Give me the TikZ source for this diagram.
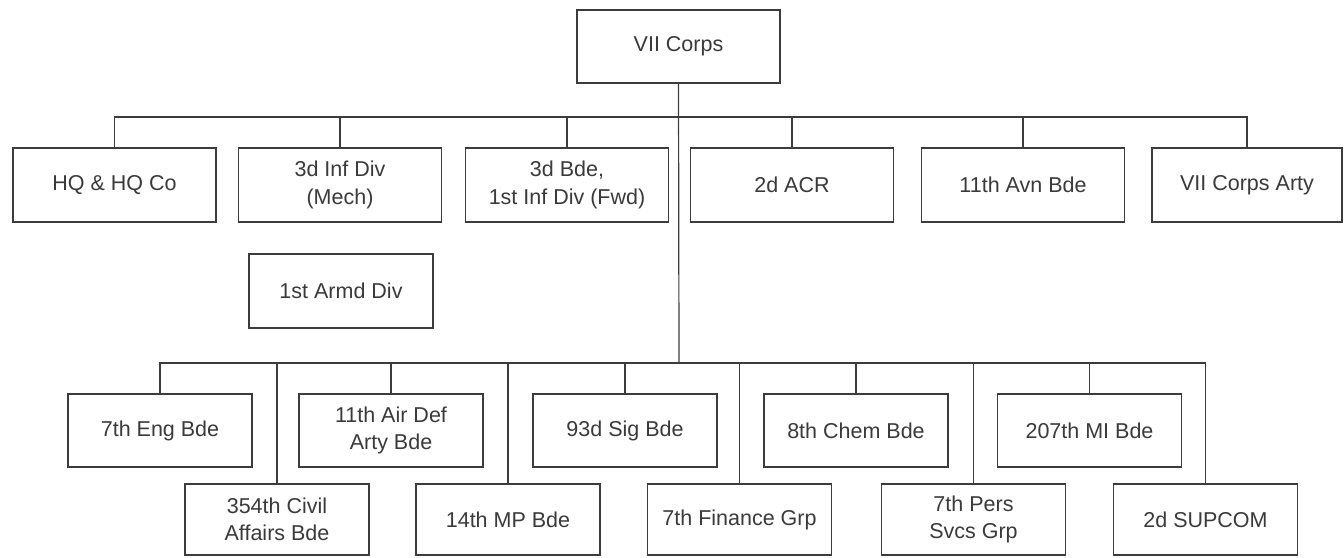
\documentclass[tikz,border=0pt]{standalone}
\usepackage{fontspec}
\setmainfont{Liberation Sans}
\definecolor{linegray}{HTML}{3C3C3C}
\definecolor{textgray}{HTML}{3A3A3A}
\begin{document}
\begin{tikzpicture}[x=1pt,y=-1pt,
  unit/.style={draw=linegray, line width=1.3pt, fill=white, inner sep=0pt,
    align=center, text=textgray, font=\fontsize{21.5}{27.5}\selectfont},
  toprow/.style={unit, minimum width=203pt, minimum height=74pt},
  lowrow/.style={unit, minimum width=184pt, minimum height=73pt},
  botrow/.style={unit, minimum width=184pt, minimum height=71pt},
  link/.style={draw=linegray, line width=1.2pt}]
\useasboundingbox (0,0) rectangle (1344,557);

% top
\node[unit, minimum width=203pt, minimum height=73pt] (corps) at (678.5,46.5) {VII Corps};

% first level
\node[toprow] (hq)    at (114.5,185) {HQ \& HQ Co};
\node[toprow] (inf3)  at (340,185)   {3d Inf Div\\(Mech)};
\node[toprow] (bde3)  at (567,185)   {3d Bde,\\1st Inf Div (Fwd)};
\node[toprow] (acr)   at (792,185)   {2d ACR};
\node[toprow] (avn)   at (1023,185)  {11th Avn Bde};
\node[unit, minimum width=190pt, minimum height=74pt] (arty) at (1247,185) {VII Corps Arty};

\node[unit, minimum width=184pt, minimum height=74pt] (armd) at (341,291) {1st Armd Div};

% second level, upper
\node[lowrow] (eng)   at (160,430.5)  {7th Eng Bde};
\node[lowrow] (ada)   at (391,430.5)  {11th Air Def\\Arty Bde};
\node[lowrow] (sig)   at (625,430.5)  {93d Sig Bde};
\node[lowrow] (chem)  at (856,430.5)  {8th Chem Bde};
\node[lowrow] (mi)    at (1089.5,430.5) {207th MI Bde};

% second level, lower
\node[botrow] (ca)     at (277,519.5)    {354th Civil\\Affairs Bde};
\node[botrow] (mp)     at (508,519.5)    {14th MP Bde};
\node[botrow] (fin)    at (739.5,519.5)  {7th Finance Grp};
\node[botrow] (pers)   at (973.5,519.5)  {7th Pers\\Svcs Grp};
\node[botrow] (supcom) at (1205.5,519.5) {2d SUPCOM};

% buses
\coordinate (tb) at (679,117);
\coordinate (bb) at (679,363);

\draw[link] (corps.south) -- (bb);
\draw[link] (hq.north) |- (tb) -| (arty.north);
\foreach \n in {inf3,bde3,acr,avn}
  \draw[link] (\n.north) -- (\n.north |- tb);

\draw[link] (eng.north) |- (bb) -| (supcom.north);
\foreach \n in {ada,sig,chem,mi,ca,mp,fin,pers}
  \draw[link] (\n.north) -- (\n.north |- bb);
\end{tikzpicture}
\end{document}
